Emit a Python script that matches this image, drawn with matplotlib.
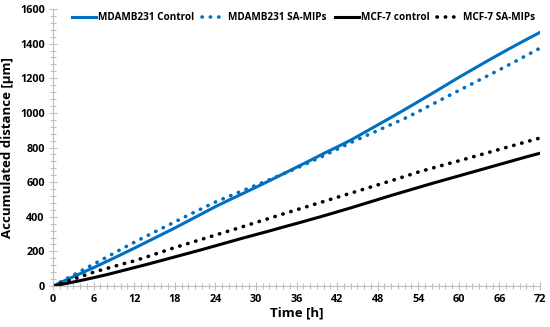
import matplotlib.pyplot as plt
from matplotlib.ticker import MultipleLocator

plt.rcParams['font.family'] = ['Open Sans', 'DejaVu Sans']

# time points [h]
time = [0, 2, 4, 6, 8, 10, 12, 14, 16, 18, 20, 22, 24, 26, 28, 30, 32, 34, 36,
        38, 40, 42, 44, 46, 48, 50, 52, 54, 56, 58, 60, 62, 64, 66, 68, 70, 72]

# accumulated distance [um]
mda_control = [0, 36, 71, 106, 143, 180, 218, 257, 296, 335, 376, 417, 458, 496,
               533, 570, 608, 647, 686, 725, 765, 803, 842, 886, 930, 974, 1019,
               1065, 1111, 1158, 1205, 1250, 1295, 1339, 1382, 1424, 1465]
mda_mips = [0, 42, 84, 126, 168, 211, 252, 292, 331, 370, 409, 447, 485, 518,
            550, 582, 614, 647, 680, 716, 752, 790, 828, 863, 898, 933, 968,
            1007, 1048, 1089, 1129, 1169, 1209, 1249, 1290, 1332, 1374]
mcf_control = [0, 15, 31, 48, 66, 86, 106, 126, 147, 168, 189, 210, 232, 254,
               276, 297, 318, 340, 361, 383, 405, 428, 451, 475, 499, 523, 546,
               569, 592, 614, 636, 658, 680, 702, 724, 746, 767]
mcf_mips = [0, 26, 53, 80, 102, 124, 145, 170, 196, 222, 246, 270, 294, 318,
            342, 367, 391, 416, 440, 464, 488, 512, 536, 560, 584, 608, 633,
            658, 680, 702, 723, 745, 767, 789, 811, 833, 855]

blue = "#0070C0"
dots = (0, (0.1, 2.2))

fig = plt.figure(figsize=(5.5, 3.27), dpi=100)
ax = fig.add_axes([53 / 550, 41 / 327, 487 / 550, 277 / 327])

ax.plot(time, mda_control, color=blue, lw=2.2, label="MDAMB231 Control")
ax.plot(time, mda_mips, color=blue, lw=2.6, ls=dots, dash_capstyle='round',
        label="MDAMB231 SA-MIPs")
ax.plot(time, mcf_control, color="black", lw=2.2, label="MCF-7 control")
ax.plot(time, mcf_mips, color="black", lw=2.6, ls=dots, dash_capstyle='round',
        label="MCF-7 SA-MIPs")

ax.set_xlim(0, 72)
ax.set_ylim(0, 1600)
ax.xaxis.set_major_locator(MultipleLocator(6))
ax.xaxis.set_minor_locator(MultipleLocator(1))
ax.yaxis.set_major_locator(MultipleLocator(200))
ax.yaxis.set_minor_locator(MultipleLocator(40))

for side in ["top", "right"]:
    ax.spines[side].set_visible(False)
for side in ["left", "bottom"]:
    ax.spines[side].set_color("#BFBFBF")
    ax.spines[side].set_linewidth(0.8)

ax.tick_params(which="both", direction="inout", color="#BFBFBF", width=0.8)
ax.tick_params(which="major", length=6, labelsize=7.8, pad=3)
ax.tick_params(which="minor", length=4)
for lbl in ax.get_xticklabels() + ax.get_yticklabels():
    lbl.set_fontweight("bold")

ax.set_xlabel("Time [h]", fontsize=9.5, fontweight="bold", labelpad=1)
ax.set_ylabel("Accumulated distance [µm]", fontsize=9.5, fontweight="bold", labelpad=4)

leg = ax.legend(loc="upper center", bbox_to_anchor=(0.515, 1.02), ncol=4,
                frameon=False, prop={"size": 7.2, "weight": "bold"},
                handlelength=2.4, handletextpad=0.2, columnspacing=0.8)

fig.savefig("out.png", dpi=100)
